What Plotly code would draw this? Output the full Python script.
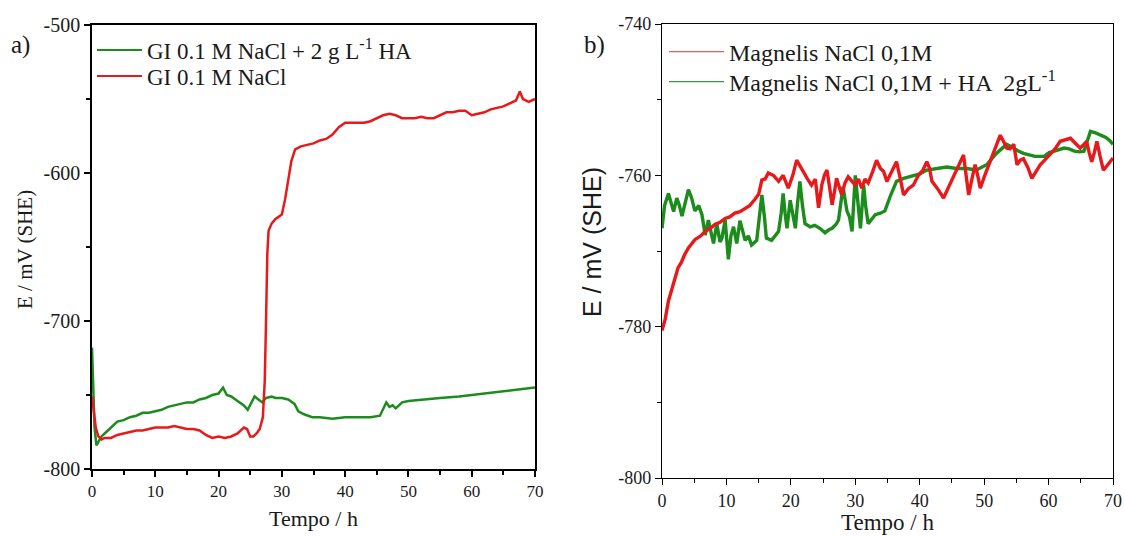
import plotly.graph_objects as go

# ---------------- data ----------------
# Panel a) GI 0.1 M NaCl
t_a_nacl = [0, 0.3, 0.6, 1.0, 1.5, 2, 3, 4, 5, 6, 7, 8, 9, 10, 11, 12, 13, 14, 15, 16, 17, 18, 19, 20,
            21, 22, 23, 24, 24.5, 25, 25.5, 26, 26.5, 27, 27.3, 27.5, 27.7, 27.9, 28.4, 29, 30, 30.5,
            31, 31.5, 32.1, 33, 34, 35, 36, 37, 38, 39, 40, 41, 42, 43, 44, 45, 46, 47, 48, 49, 50,
            51, 52, 53, 54, 55, 56, 57, 58, 59, 60, 61, 62, 63, 64, 65, 66, 67, 67.6, 68.1, 69, 70]
e_a_nacl = [-751, -762, -772, -778, -780,
            -779, -779, -777, -776, -775, -774, -774, -773, -772, -772, -772, -771, -772, -773, -773,
            -774, -777, -779, -778, -779, -778, -776, -772,
            -773, -778, -778, -776, -773, -765, -740, -700, -655, -639, -634, -631, -628, -618, -605,
            -592, -584,
            -582, -581, -580, -578, -577, -574, -569, -566, -566, -566, -566, -565, -563, -561, -560,
            -561, -563, -563, -563, -562, -563, -563, -561, -559, -559, -558, -558, -561, -560, -559,
            -557, -556, -555, -553, -551,
            -545, -550, -552, -550]

# Panel a) GI 0.1 M NaCl + 2 g/L HA
t_a_ha = [0, 0.2, 0.4, 0.7, 1.0, 1.5, 2, 3, 4, 5, 6, 7, 8, 9, 10, 11, 12, 13, 14, 15, 16, 17, 18, 19, 20,
          20.7, 21.3, 22, 23, 24, 24.6, 25.2, 25.7, 26.3, 26.9, 27.5, 28.4, 29, 30, 31, 32, 32.6, 33.5,
          34.8, 36, 38, 40, 42, 44, 45.5, 46, 46.5, 47, 47.5, 48, 49, 50, 52, 55, 58, 60, 62, 65, 67, 70]
e_a_ha = [-718, -750, -772, -784, -782, -778,
          -776, -772, -768, -767, -765, -764, -762, -762, -761, -760, -758, -757, -756, -755, -755,
          -753, -752, -750, -749,
          -745, -750, -751, -754, -757, -760, -755, -751, -753, -755, -752, -751, -752, -752, -753,
          -756, -761, -763, -765, -765, -766, -765, -765, -765, -764, -760, -755, -758, -757, -759,
          -755, -754, -753, -752, -751, -750, -749, -747, -746, -745]

# Panel b) Magnelis NaCl 0,1M
t_b_nacl = [0, 0.5, 1.0, 1.5, 2.0, 2.5, 3.0, 3.5, 4.1, 5.1, 6.0, 6.7, 7.5, 8.2, 9.0, 9.8, 10.5, 11.3,
            12.1, 12.9, 13.6, 14.4, 15.0, 15.5, 16.0, 16.5, 17.3, 18.1, 18.8, 19.6, 20.3, 20.9, 21.4,
            21.9, 22.6, 23.2, 23.8, 24.3, 24.8, 25.2, 25.6, 26.0, 26.4, 26.8, 27.1, 27.5, 27.9, 28.4,
            28.9, 29.5, 30.0, 30.5, 31.0, 31.5, 32.0, 32.7, 33.3, 33.9, 34.4, 34.9, 35.6, 36.4, 37.0,
            37.5, 38.2, 39.0, 39.8, 40.5, 41.1, 41.5, 41.9, 42.8, 43.7, 44.5, 45.2, 46.0, 46.8, 47.2,
            47.6, 48.1, 48.6, 49.0, 49.4, 50.1, 50.9, 51.7, 52.5, 53.0, 53.5, 54.0, 54.6, 55.1, 55.6,
            56.1, 56.8, 57.4, 58.0, 58.7, 59.4, 60.2, 61.0, 61.8, 62.6, 63.4, 64.2, 64.9, 65.4, 65.9,
            66.3, 66.7, 67.1, 67.5, 68.0, 68.5, 69.0, 69.6, 70.0]
e_b_nacl = [-780.5, -779, -776.6, -775, -773.5, -772.2, -771.5, -770.5, -769.6, -768.5, -768, -767.4,
            -767, -766.5, -766.2, -765.7, -765.5, -765, -764.8, -764.3, -764, -763.2, -762.5, -760.6,
            -760.5, -759.7, -760, -760.8, -760, -761.7, -760, -758, -758.8, -759.5, -760.5, -761.3,
            -760.5, -764.3, -761.3, -760, -759.3, -761.5, -763.9, -762, -760.4, -761.5, -762.6, -761,
            -760.2, -760.8, -761.3, -760.5, -761.7, -760.5, -761, -759.5, -758, -759.1, -759.5, -760.8,
            -759.5, -758.2, -760.5, -762.6, -761.8, -761.3, -760, -759.3, -758.2, -759, -760.8, -761.8,
            -763, -761.5, -760.4, -758.8, -757.3, -760, -762.6, -760.5, -758.6, -760, -761.7, -760,
            -758.2, -756.4, -754.7, -755.5, -756.4, -756.5, -755.9, -758.6, -758, -757.8, -759, -760.4,
            -759.5, -758.6, -758, -757.3, -756.5, -755.5, -755.3, -755.1, -755.8, -756.4, -756, -755.5,
            -757, -758.2, -757, -755.5, -757.5, -759.3, -758.8, -758.2, -757.7]

# Panel b) Magnelis NaCl 0,1M + HA 2 g/L
t_b_ha = [0, 0.4, 1.0, 1.4, 1.8, 2.3, 2.7, 3.1, 3.6, 4.1, 4.6, 5.1, 5.7, 6.2, 6.7, 7.2, 7.6, 8.0, 8.5,
          9.0, 9.3, 9.8, 10.3, 10.7, 11.1, 11.6, 12.1, 12.5, 12.9, 13.4, 13.9, 14.7, 15.1, 15.5, 15.9,
          16.2, 17.0, 17.6, 18.1, 18.5, 18.8, 19.1, 19.4, 19.9, 20.3, 20.7, 21.0, 21.4, 21.8, 22.2,
          23.0, 23.7, 24.5, 25.3, 25.9, 26.4, 27.0, 27.4, 28.1, 28.7, 29.1, 29.5, 30.0, 30.4, 30.8,
          31.3, 31.6, 32.0, 32.5, 33.1, 33.9, 34.6, 35.5, 36.4, 37.5, 39.0, 40.0, 41.1, 42.6, 44.2,
          45.7, 47.3, 48.8, 50.4, 51.2, 51.9, 52.7, 53.5, 54.6, 55.3, 56.1, 57.0, 57.9, 59.3, 60.1,
          60.9, 61.7, 62.4, 63.2, 64.0, 64.8, 65.5, 66.0, 66.5, 67.3, 68.1, 68.9, 69.6, 70.0]
e_b_ha = [-767, -764, -762.4, -763.5, -764.8, -763, -764, -765.4, -763.5, -761.9, -763, -764.7, -764,
          -765.2, -767.9, -765.9, -767.5, -769, -766.4, -768.8, -768.3, -765.9, -771.1, -768, -766.8,
          -769, -766, -767.5, -768.6, -768, -769.2, -768.6, -766, -762.6, -765.5, -768.3, -768.6, -768,
          -767.4, -765, -762.4, -765, -767, -763.3, -765.5, -767, -764, -760.8, -764, -766.4, -766.8,
          -766.6, -767, -767.6, -767.2, -767, -766.5, -765.9, -761.5, -764.7, -765.5, -767.4, -760,
          -764, -767, -761.3, -764, -766.4, -765.8, -765.2, -765, -764.7, -762.6, -760.8, -760.4, -760,
          -759.8, -759.3, -759.1, -758.9, -759.1, -759.1, -759.3, -758.6, -757.8, -757.1, -756.5,
          -755.9, -756.4, -756.8, -757.1, -757.3, -757.5, -757.5, -757, -756.8, -756.6, -756.4,
          -756.5, -756.8, -756.9, -756.8, -755.5, -754.2, -754.4, -754.7, -755, -755.5, -755.9]

assert len(t_a_nacl) == len(e_a_nacl)
assert len(t_a_ha) == len(e_a_ha)
assert len(t_b_nacl) == len(e_b_nacl)
assert len(t_b_ha) == len(e_b_ha)

x_tick_vals = [0, 10, 20, 30, 40, 50, 60, 70]
x_tick_text = ["0", "10", "20", "30", "40", "50", "60", "70"]
ya_tick_vals = [-800, -700, -600, -500]
ya_tick_text = ["-800", "-700", "-600", "-500"]
yb_tick_vals = [-800, -780, -760, -740]
yb_tick_text = ["-800", "-780", "-760", "-740"]

name_a_ha = "GI 0.1 M NaCl + 2 g L<sup>-1</sup> HA"
name_a_nacl = "GI 0.1 M NaCl"
name_b_nacl = "Magnelis NaCl 0,1M"
name_b_ha = "Magnelis NaCl 0,1M + HA  2gL<sup>-1</sup>"

# ---------------- styling ----------------
W, H = 1124, 536
RED = "#e8191a"
GREEN = "#1c8c1c"
SERIF = "Liberation Serif"
SANS = "Liberation Sans"
TXT = "#1a1a1a"


def px(x):
    return x / W


def py(y):
    return 1 - y / H


fig = go.Figure()

# panel a
fig.add_trace(go.Scatter(x=t_a_ha, y=e_a_ha, mode="lines", line=dict(color=GREEN, width=2.5),
                         xaxis="x", yaxis="y", showlegend=False, hoverinfo="skip"))
fig.add_trace(go.Scatter(x=t_a_nacl, y=e_a_nacl, mode="lines", line=dict(color=RED, width=2.5),
                         xaxis="x", yaxis="y", showlegend=False, hoverinfo="skip"))
# panel b
fig.add_trace(go.Scatter(x=t_b_ha, y=e_b_ha, mode="lines", line=dict(color=GREEN, width=3.4),
                         xaxis="x2", yaxis="y2", showlegend=False, hoverinfo="skip"))
fig.add_trace(go.Scatter(x=t_b_nacl, y=e_b_nacl, mode="lines", line=dict(color=RED, width=3.4),
                         xaxis="x2", yaxis="y2", showlegend=False, hoverinfo="skip"))

# legend entries (one legend box per row, for exact placement)
fig.add_trace(go.Scatter(x=[None], y=[None], mode="lines", name=name_a_ha,
                         line=dict(color=GREEN, width=2), xaxis="x", yaxis="y", legend="legend"))
fig.add_trace(go.Scatter(x=[None], y=[None], mode="lines", name=name_a_nacl,
                         line=dict(color=RED, width=2), xaxis="x", yaxis="y", legend="legend3"))
fig.add_trace(go.Scatter(x=[None], y=[None], mode="lines", name=name_b_nacl,
                         line=dict(color="#ee5a5a", width=1.4), xaxis="x2", yaxis="y2", legend="legend2"))
fig.add_trace(go.Scatter(x=[None], y=[None], mode="lines", name=name_b_ha,
                         line=dict(color="#3a9a3a", width=1.4), xaxis="x2", yaxis="y2", legend="legend4"))

axis_common = dict(showgrid=False, zeroline=False, showline=True, linecolor="black",
                   mirror=True, ticks="outside", tickcolor="black", automargin=False)


def leg(xp, yp, size, iw):
    return dict(x=px(xp), y=py(yp), xanchor="left", yanchor="middle", bgcolor="rgba(0,0,0,0)",
                font=dict(family=SERIF, size=size, color=TXT), itemwidth=iw, tracegroupgap=0)


fig.update_layout(
    width=W, height=H, autosize=False,
    margin=dict(l=0, r=0, t=0, b=0, pad=0),
    paper_bgcolor="white", plot_bgcolor="white",
    font=dict(family=SERIF, color=TXT),
    xaxis=dict(domain=[px(92), px(535)], range=[0, 70], anchor="y",
               tickvals=x_tick_vals, ticktext=x_tick_text, ticklen=6, tickwidth=1.5, linewidth=1.5,
               tickfont=dict(family=SERIF, size=17, color=TXT),
               minor=dict(dtick=5, ticklen=4, ticks="outside", tickcolor="black", tickwidth=1.5),
               **axis_common),
    yaxis=dict(domain=[py(469), py(25)], range=[-800, -500], anchor="x",
               tickvals=ya_tick_vals, ticktext=ya_tick_text, ticklen=6, tickwidth=1.5, linewidth=1.5,
               tickfont=dict(family=SERIF, size=20, color=TXT),
               minor=dict(dtick=50, ticklen=4, ticks="outside", tickcolor="black", tickwidth=1.5),
               **axis_common),
    xaxis2=dict(domain=[px(662), px(1113)], range=[0, 70], anchor="y2",
                tickvals=x_tick_vals, ticktext=x_tick_text, ticklen=6, tickwidth=1.2, linewidth=1.2,
                tickfont=dict(family=SERIF, size=18, color=TXT),
                minor=dict(dtick=5, ticklen=4, ticks="outside", tickcolor="black", tickwidth=1.2),
                **axis_common),
    yaxis2=dict(domain=[py(478), py(24)], range=[-800, -740], anchor="x2",
                tickvals=yb_tick_vals, ticktext=yb_tick_text, ticklen=6, tickwidth=1.2, linewidth=1.2,
                tickfont=dict(family=SERIF, size=18, color=TXT),
                minor=dict(dtick=10, ticklen=4, ticks="outside", tickcolor="black", tickwidth=1.2),
                **axis_common),
    legend=leg(92, 50, 23, 45),
    legend3=leg(92, 76, 23, 45),
    legend2=leg(664, 52, 24, 55),
    legend4=leg(664, 82, 24, 55),
    showlegend=True,
)

annotations = [
    dict(text="a)", x=px(20), y=py(45), font=dict(family=SERIF, size=25, color=TXT)),
    dict(text="b)", x=px(594), y=py(45), font=dict(family=SERIF, size=25, color=TXT)),
    dict(text="E / mV (SHE)", x=px(25), y=py(250), textangle=-90,
         font=dict(family=SERIF, size=21, color=TXT)),
    dict(text="E / mV (SHE)", x=px(592), y=py(242), textangle=-90,
         font=dict(family=SANS, size=25, color=TXT)),
    dict(text="Tempo / h", x=px(313), y=py(518), font=dict(family=SERIF, size=22, color=TXT)),
    dict(text="Tempo / h", x=px(887), y=py(522), font=dict(family=SERIF, size=23, color=TXT)),
]
for a in annotations:
    a.update(xref="paper", yref="paper", showarrow=False, xanchor="center", yanchor="middle")
fig.update_layout(annotations=annotations)

page_fix = (
    "document.documentElement.style.margin='0';"
    "document.documentElement.style.overflow='hidden';"
    "document.body.style.margin='0';document.body.style.padding='0';"
    "var gd=document.getElementById('{plot_id}');"
    "gd.style.position='fixed';gd.style.left='0px';gd.style.top='0px';"
)

fig.write_html("out.html", config={"responsive": False, "displayModeBar": False},
               post_script=page_fix)
